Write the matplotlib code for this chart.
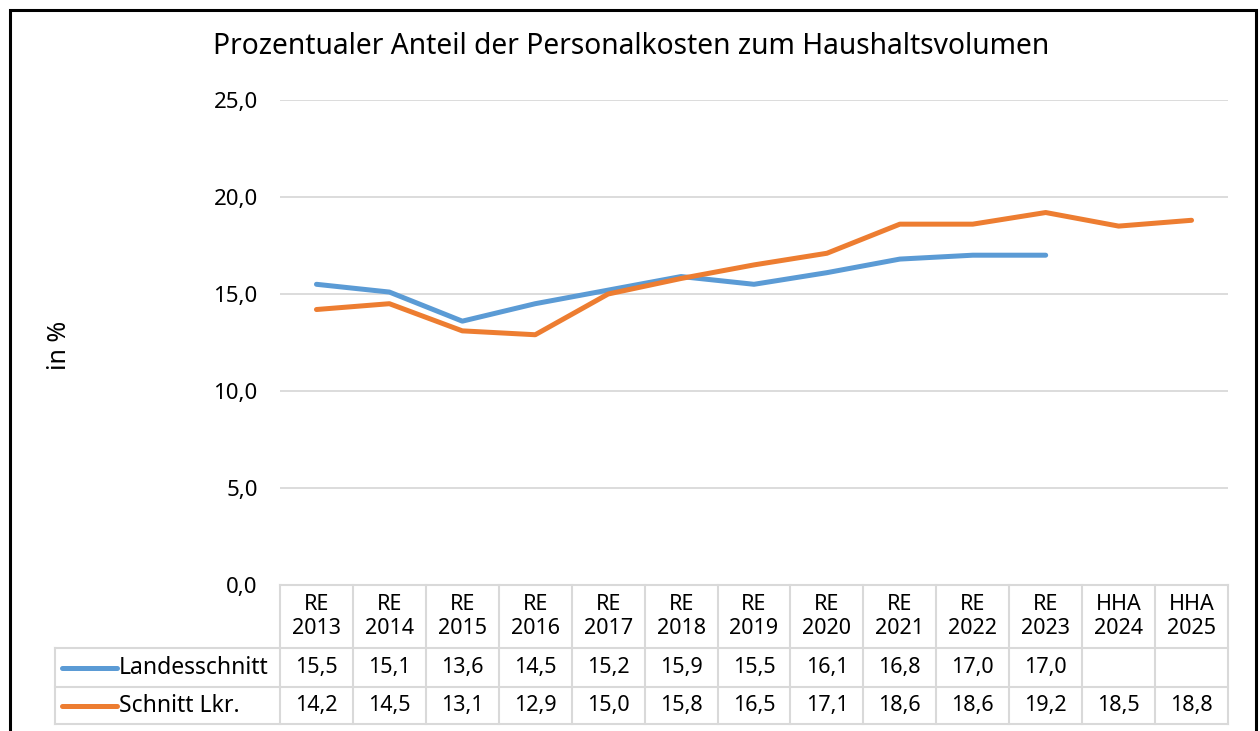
import numpy as np
import matplotlib.pyplot as plt
from matplotlib.patches import Rectangle

# === Daten ===
kategorien = ["RE\n2013", "RE\n2014", "RE\n2015", "RE\n2016", "RE\n2017", "RE\n2018", "RE\n2019",
              "RE\n2020", "RE\n2021", "RE\n2022", "RE\n2023", "HHA\n2024", "HHA\n2025"]
landesschnitt = [15.5, 15.1, 13.6, 14.5, 15.2, 15.9, 15.5, 16.1, 16.8, 17.0, 17.0, np.nan, np.nan]
schnitt_lkr = [14.2, 14.5, 13.1, 12.9, 15.0, 15.8, 16.5, 17.1, 18.6, 18.6, 19.2, 18.5, 18.8]
serien = ["Landesschnitt", "Schnitt Lkr."]
farben = ["#5b9bd5", "#ed7d31"]
y_ticks = [0, 5, 10, 15, 20, 25]

plt.rcParams['font.family'] = ['Noto Sans', 'DejaVu Sans']

W, H = 1260, 731
fig = plt.figure(figsize=(W / 100, H / 100), dpi=100)

# Rahmen um das Diagramm
fig.add_artist(Rectangle((10 / W, -0.05), (1256 - 10) / W, (H - 10) / H + 0.05,
                         transform=fig.transFigure, fill=False, ec="black", lw=2.2))

# === Diagramm ===
ax = fig.add_axes([280 / W, 1 - 585 / H, (1228 - 280) / W, (585 - 100) / H])
n = len(kategorien)
x = np.arange(n) + 0.5
for werte, farbe in zip([landesschnitt, schnitt_lkr], farben):
    ax.plot(x, werte, color=farbe, lw=3.6, solid_capstyle="round", solid_joinstyle="round", zorder=3)
ax.set_xlim(0, n)
ax.set_ylim(0, 25)
ax.set_yticks(y_ticks)
ax.set_yticklabels([f"{v:.1f}".replace(".", ",") for v in y_ticks], fontsize=16)
ax.tick_params(axis="y", length=0, pad=16)
ax.set_xticks([])
ax.grid(axis="y", color="#d9d9d9", lw=1.3)
ax.set_axisbelow(True)
for s in ax.spines.values():
    s.set_visible(False)

fig.text(213 / W, 1 - 47 / H, "Prozentualer Anteil der Personalkosten zum Haushaltsvolumen",
         fontsize=20.3, ha="left", va="center")
fig.text(60 / W, 1 - 345 / H, "in %", fontsize=18, rotation=90, ha="center", va="center")

# === Datentabelle ===
tx0, tx1 = 55, 1228
col_w = (1228 - 280) / n
lab_w = (280 - tx0) / col_w
tab = fig.add_axes([tx0 / W, 1 - 724 / H, (tx1 - tx0) / W, (724 - 585) / H])
tab.set_xlim(-lab_w, n)
tab.set_ylim(0, 139)
tab.axis("off")
gc = "#d9d9d9"
# horizontale Linien
tab.plot([0, n], [139, 139], color=gc, lw=1.5, clip_on=False)
for yy in [76, 37, 0]:
    tab.plot([-lab_w, n], [yy, yy], color=gc, lw=1.5, clip_on=False)
# vertikale Linien
for i in range(n + 1):
    tab.plot([i, i], [0, 139], color=gc, lw=1.5, clip_on=False)
tab.plot([-lab_w, -lab_w], [0, 76], color=gc, lw=1.5, clip_on=False)

for i, k in enumerate(kategorien):
    tab.text(i + 0.5, 107.5, k, ha="center", va="center", fontsize=15.5, linespacing=1.15)

zeilen_y = [56.5, 18.5]
for werte, name, farbe, yy in zip([landesschnitt, schnitt_lkr], serien, farben, zeilen_y):
    tab.plot([-lab_w + 7 / col_w, -lab_w + 62 / col_w], [yy, yy], color=farbe, lw=3.6,
             solid_capstyle="round", clip_on=False)
    tab.text(-lab_w + 64 / col_w, yy, name, ha="left", va="center", fontsize=16.5)
    for i, v in enumerate(werte):
        if not np.isnan(v):
            tab.text(i + 0.5, yy, f"{v:.1f}".replace(".", ","), ha="center", va="center", fontsize=15.5)

fig.savefig("out.png", dpi=100)
